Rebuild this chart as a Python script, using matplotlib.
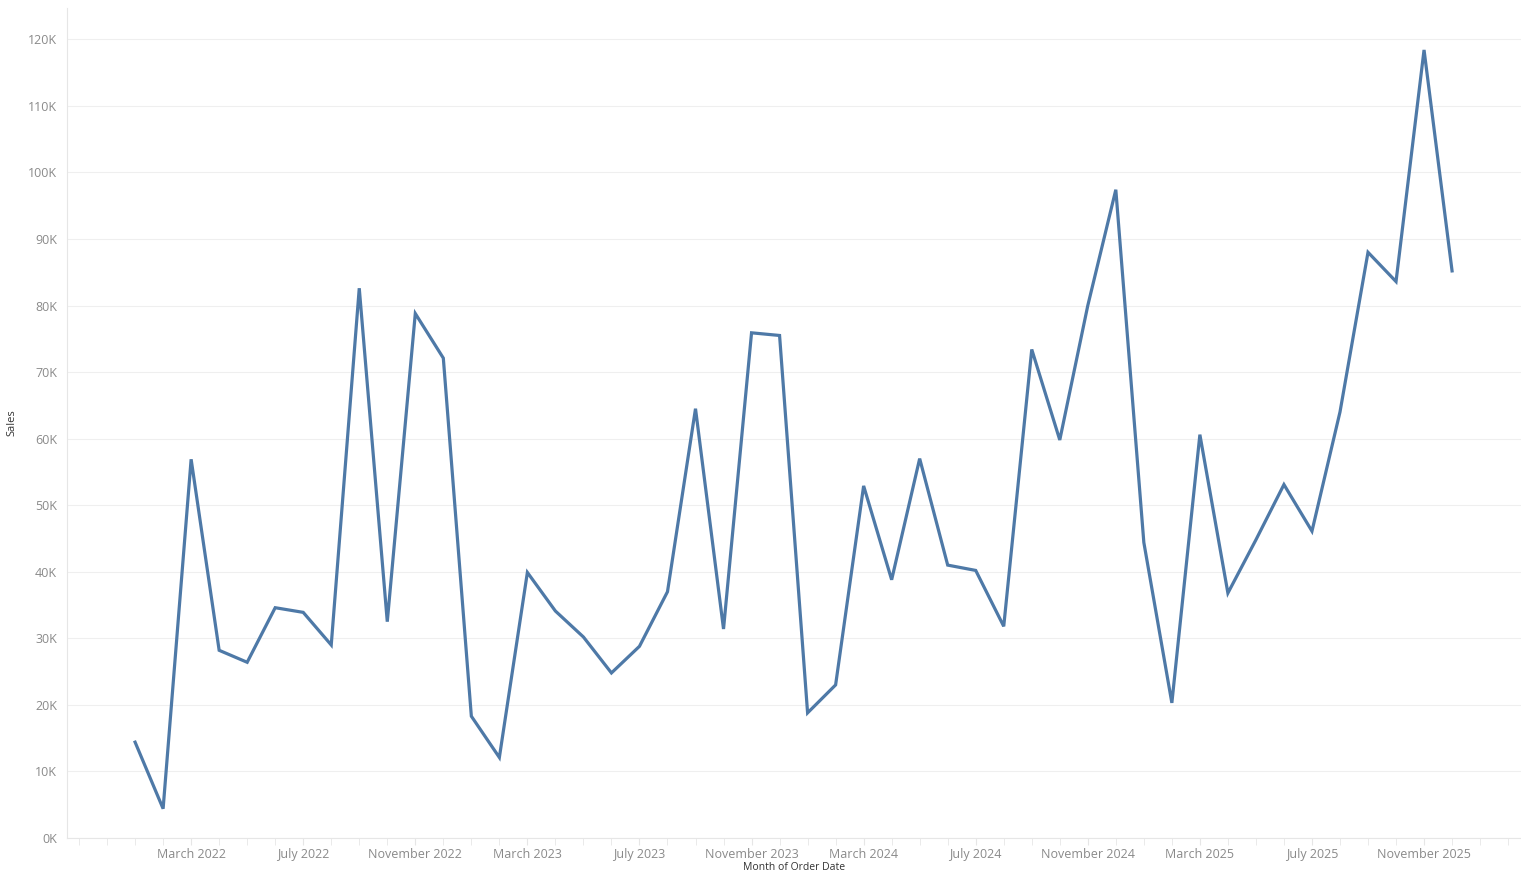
import numpy as np
import matplotlib
matplotlib.use("Agg")
import matplotlib.pyplot as plt
from matplotlib.ticker import FuncFormatter, MultipleLocator, FixedLocator

# Monthly sales, Jan 2022 .. Dec 2025 (values in thousands)
months = [f"{m} {y}" for y in range(2022, 2026)
          for m in ["January", "February", "March", "April", "May", "June", "July",
                    "August", "September", "October", "November", "December"]]
sales_2022 = [14.4, 4.4, 56.9, 28.2, 26.4, 34.6, 33.9, 29.0, 82.6, 32.5, 78.8, 72.1]
sales_2023 = [18.3, 12.1, 39.9, 34.1, 30.2, 24.8, 28.8, 37.0, 64.5, 31.4, 75.9, 75.5]
sales_2024 = [18.8, 23.0, 52.9, 38.8, 57.0, 41.0, 40.2, 31.8, 73.4, 59.8, 80.0, 97.4]
sales_2025 = [44.4, 20.3, 60.6, 36.8, 44.8, 53.1, 46.1, 64.0, 88.0, 83.6, 118.4, 85.2]
sales = np.array(sales_2022 + sales_2023 + sales_2024 + sales_2025) * 1000

label_idx = list(range(2, len(months), 4))
y_ticks = list(range(0, 130000, 10000))

plt.rcParams['font.family'] = ['Open Sans', 'DejaVu Sans']

W, H = 1521, 874
fig = plt.figure(figsize=(W / 100, H / 100), dpi=100)
ax = fig.add_axes([67 / W, (H - 838) / H, (W - 67) / W, (838 - 8) / H])

x = np.arange(len(sales))
ax.plot(x, sales, color='#4e79a7', linewidth=2.3, solid_joinstyle='miter')

ax.set_xlim(-2.43, 49.46)
ax.set_ylim(0, 124700)

ax.yaxis.set_major_locator(FixedLocator(y_ticks))
ax.yaxis.set_major_formatter(FuncFormatter(lambda v, p: f"{int(v / 1000)}K"))
ax.grid(axis='y', color='#efefef', linewidth=0.8)
ax.set_axisbelow(True)

ax.set_xticks(label_idx)
ax.set_xticklabels([months[i] for i in label_idx])
ax.xaxis.set_minor_locator(MultipleLocator(1))

for s in ['top', 'right']:
    ax.spines[s].set_visible(False)
ax.spines['left'].set_color('#e6e6e6')
ax.spines['bottom'].set_color('#e6e6e6')

ax.tick_params(axis='y', length=0, pad=7, labelsize=9, labelcolor='#8a8a8a')
ax.tick_params(axis='x', which='both', length=5, color='#e6e6e6', pad=2,
               labelsize=9, labelcolor='#8a8a8a')

ax.set_ylabel('Sales', fontsize=8, color='#333333')
ax.yaxis.set_label_coords((17 - 67) / (W - 67), 0.5)
fig.text(0.5 * (67 + W) / W, 1 / H, 'Month of Order Date', ha='center',
         va='bottom', fontsize=7.5, color='#333333')

fig.savefig('out.png', dpi=100)
